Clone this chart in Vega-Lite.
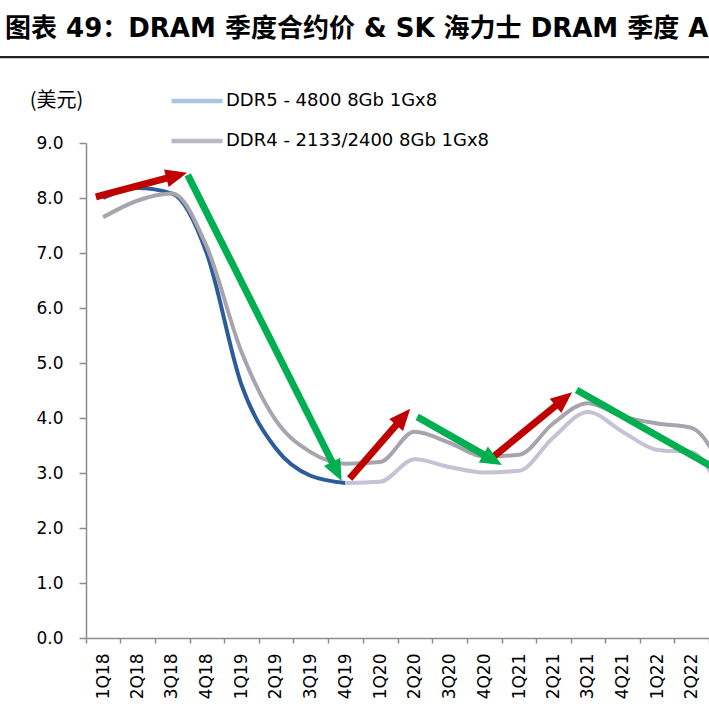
{
  "$schema": "https://vega.github.io/schema/vega-lite/v6.json",
  "width": 623,
  "height": 495,
  "autosize": {"type": "none"},
  "padding": {"left": 86, "top": 143, "right": 0, "bottom": 72},
  "background": "white",
  "title": {
    "text": "图表 49：DRAM 季度合约价 & SK 海力士 DRAM 季度 ASP",
    "anchor": "start",
    "frame": "group",
    "dx": -81,
    "offset": 14,
    "font": "DejaVu Sans, Noto Sans CJK SC",
    "fontSize": 26,
    "fontWeight": "bold",
    "color": "#000000"
  },
  "config": {
    "view": {"stroke": null},
    "font": "DejaVu Sans"
  },
  "datasets": {
    "prices": [
      {"date": "2018-02-15", "line": "lower-early", "price": 8.0},
      {"date": "2018-05-16", "line": "lower-early", "price": 8.18},
      {"date": "2018-08-16", "line": "lower-early", "price": 8.08},
      {"date": "2018-11-15", "line": "lower-early", "price": 7.0},
      {"date": "2019-02-15", "line": "lower-early", "price": 4.6},
      {"date": "2019-05-16", "line": "lower-early", "price": 3.45},
      {"date": "2019-08-16", "line": "lower-early", "price": 2.95},
      {"date": "2019-11-15", "line": "lower-early", "price": 2.82},
      {"date": "2019-11-15", "line": "lower-late", "price": 2.82},
      {"date": "2020-02-15", "line": "lower-late", "price": 2.84},
      {"date": "2020-05-16", "line": "lower-late", "price": 3.25},
      {"date": "2020-08-16", "line": "lower-late", "price": 3.11},
      {"date": "2020-11-15", "line": "lower-late", "price": 3.01},
      {"date": "2021-02-15", "line": "lower-late", "price": 3.04},
      {"date": "2021-05-16", "line": "lower-late", "price": 3.64},
      {"date": "2021-08-16", "line": "lower-late", "price": 4.11},
      {"date": "2021-11-15", "line": "lower-late", "price": 3.75},
      {"date": "2022-02-15", "line": "lower-late", "price": 3.42},
      {"date": "2022-05-16", "line": "lower-late", "price": 3.38},
      {"date": "2022-08-16", "line": "lower-late", "price": 2.4},
      {"date": "2018-02-15", "line": "upper", "price": 7.65},
      {"date": "2018-05-16", "line": "upper", "price": 7.95},
      {"date": "2018-08-16", "line": "upper", "price": 8.08},
      {"date": "2018-11-15", "line": "upper", "price": 7.12},
      {"date": "2019-02-15", "line": "upper", "price": 5.2},
      {"date": "2019-05-16", "line": "upper", "price": 3.96},
      {"date": "2019-08-16", "line": "upper", "price": 3.38},
      {"date": "2019-11-15", "line": "upper", "price": 3.17},
      {"date": "2020-02-15", "line": "upper", "price": 3.2},
      {"date": "2020-05-16", "line": "upper", "price": 3.75},
      {"date": "2020-08-16", "line": "upper", "price": 3.55},
      {"date": "2020-11-15", "line": "upper", "price": 3.3},
      {"date": "2021-02-15", "line": "upper", "price": 3.33},
      {"date": "2021-05-16", "line": "upper", "price": 3.9},
      {"date": "2021-08-16", "line": "upper", "price": 4.27},
      {"date": "2021-11-15", "line": "upper", "price": 4.03},
      {"date": "2022-02-15", "line": "upper", "price": 3.9},
      {"date": "2022-05-16", "line": "upper", "price": 3.82},
      {"date": "2022-08-16", "line": "upper", "price": 2.9}
    ],
    "arrows": [
      {"kind": "rise", "x1": "2018-01-27", "y1": 8.02, "x2": "2018-09-03", "y2": 8.42},
      {"kind": "fall", "x1": "2018-09-26", "y1": 8.42, "x2": "2019-10-27", "y2": 2.99},
      {"kind": "rise", "x1": "2019-11-27", "y1": 2.9, "x2": "2020-04-20", "y2": 4.05},
      {"kind": "fall", "x1": "2020-05-23", "y1": 4.02, "x2": "2020-12-13", "y2": 3.22},
      {"kind": "rise", "x1": "2020-12-09", "y1": 3.29, "x2": "2021-06-18", "y2": 4.37},
      {"kind": "fall", "x1": "2021-07-17", "y1": 4.51, "x2": "2022-11-12", "y2": 2.62}
    ],
    "legendItems": [
      {"name": "DDR5 - 4800 8Gb 1Gx8"},
      {"name": "DDR4 - 2133/2400 8Gb 1Gx8"}
    ]
  },
  "layer": [
    {
      "data": {"values": [{}]},
      "mark": {"type": "rule", "color": "#222222", "strokeWidth": 2.2},
      "encoding": {
        "x": {"datum": {"year": 2017, "month": 4, "date": 1}, "type": "temporal"},
        "x2": {"datum": {"year": 2022, "month": 10, "date": 1}},
        "y": {"datum": 10.56, "type": "quantitative"}
      }
    },
    {
      "data": {"name": "prices"},
      "mark": {"type": "line", "interpolate": "monotone", "strokeWidth": 4, "clip": true},
      "encoding": {
        "x": {
          "field": "date",
          "type": "temporal",
          "scale": {"domain": [{"year": 2018, "month": 1, "date": 1}, {"year": 2022, "month": 7, "date": 1}]},
          "axis": {
            "title": null,
            "grid": false,
            "tickCount": {"interval": "month", "step": 3},
            "format": "%qQ%y",
            "formatType": "time",
            "labelAngle": -90,
            "labelOffset": 17.3,
            "labelPadding": 10,
            "labelFlush": false,
            "labelOverlap": false,
            "labelFont": "DejaVu Sans",
            "labelFontSize": 17,
            "labelColor": "#000000",
            "domainColor": "#8c8c8c",
            "domainWidth": 1.5,
            "tickColor": "#8c8c8c",
            "tickWidth": 1.5,
            "tickSize": 5
          }
        },
        "y": {
          "field": "price",
          "type": "quantitative",
          "scale": {"domain": [0, 9], "nice": false},
          "axis": {
            "title": "(美元)",
            "titleAngle": 0,
            "titleX": -30,
            "titleY": -43,
            "titleAlign": "center",
            "titleBaseline": "middle",
            "titleFont": "Noto Sans CJK SC",
            "titleFontSize": 20,
            "titleFontWeight": "normal",
            "titleColor": "#000000",
            "grid": false,
            "values": [0, 1, 2, 3, 4, 5, 6, 7, 8, 9],
            "format": ".1f",
            "labelFont": "DejaVu Sans",
            "labelFontSize": 17,
            "labelColor": "#000000",
            "labelPadding": 16,
            "domainColor": "#8c8c8c",
            "domainWidth": 1.5,
            "tickColor": "#8c8c8c",
            "tickWidth": 1.5,
            "tickSize": 7
          }
        },
        "stroke": {
          "field": "line",
          "type": "nominal",
          "scale": {
            "domain": ["lower-early", "lower-late", "upper", "rise", "fall"],
            "range": ["#2b5d9b", "#c4c2d4", "#a8a4ae", "#c00000", "#00b050"]
          },
          "legend": null
        }
      }
    },
    {
      "data": {"name": "arrows"},
      "mark": {"type": "rule", "strokeWidth": 7, "strokeCap": "butt", "clip": true},
      "encoding": {
        "x": {"field": "x1", "type": "temporal"},
        "x2": {"field": "x2"},
        "y": {"field": "y1", "type": "quantitative"},
        "y2": {"field": "y2"},
        "stroke": {"field": "kind", "type": "nominal", "legend": null}
      }
    },
    {
      "data": {"name": "arrows"},
      "transform": [
        {"calculate": "atan2((toDate(datum.x2) - toDate(datum.x1)) / 86400000 * 623 / 1642, (datum.y2 - datum.y1) * 55) * 180 / PI", "as": "heading"}
      ],
      "mark": {"type": "point", "shape": "M0,-0.65L0.7,1L-0.7,1Z", "filled": true, "opacity": 1, "size": 676, "clip": true},
      "encoding": {
        "x": {"field": "x2", "type": "temporal"},
        "y": {"field": "y2", "type": "quantitative"},
        "angle": {"field": "heading", "type": "quantitative", "scale": null},
        "fill": {
          "field": "kind",
          "type": "nominal",
          "scale": {"domain": ["rise", "fall"], "range": ["#c00000", "#00b050"]},
          "legend": null
        }
      }
    },
    {
      "data": {"name": "legendItems"},
      "mark": {"type": "point", "filled": false, "clip": true},
      "encoding": {
        "y": {"datum": -20, "type": "quantitative"},
        "color": {
          "field": "name",
          "type": "nominal",
          "scale": {
            "domain": ["DDR5 - 4800 8Gb 1Gx8", "DDR4 - 2133/2400 8Gb 1Gx8"],
            "range": ["#a9c5e5", "#bab8c6"]
          },
          "legend": {
            "title": null,
            "orient": "none",
            "legendX": 83,
            "legendY": -70,
            "direction": "vertical",
            "symbolType": "stroke",
            "symbolSize": 2601,
            "symbolStrokeWidth": 4.5,
            "symbolOpacity": 1,
            "labelOffset": 1,
            "labelLimit": 500,
            "labelFont": "DejaVu Sans",
            "labelFontSize": 18,
            "labelColor": "#000000",
            "rowPadding": 3
          }
        }
      }
    }
  ]
}
